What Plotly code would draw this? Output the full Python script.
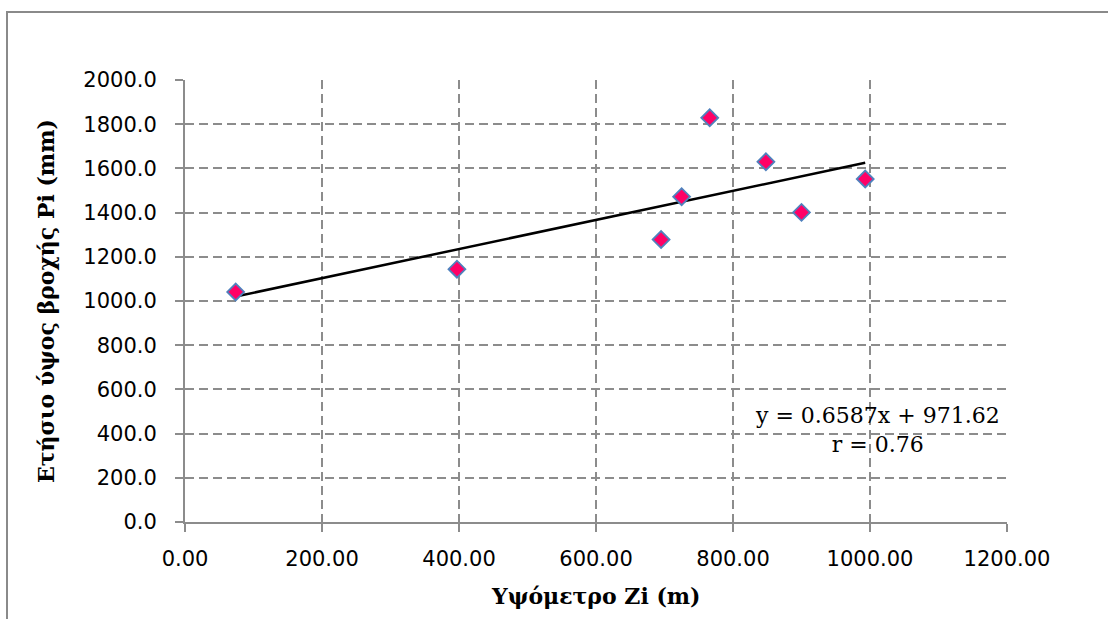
import plotly.graph_objects as go

# Data
altitude_m = [74, 397, 695, 725, 766, 848, 900, 993]
rainfall_mm = [1041, 1144, 1278, 1472, 1829, 1630, 1401, 1552]

# Trendline coefficients as printed on the chart
slope = 0.6587
intercept = 971.62
r_value = 0.76

x_ticks = [0, 200, 400, 600, 800, 1000, 1200]
y_ticks = [0, 200, 400, 600, 800, 1000, 1200, 1400, 1600, 1800, 2000]

x_title = "Υψόμετρο Zi (m)"
y_title = "Ετήσιο ύψος βροχής Pi (mm)"

# Plot area geometry (pixels)
L, R, T, B = 185, 101, 80, 97
W, H = 1108, 619
pw = W - L - R
ph = H - T - B

trend_x = [min(altitude_m), max(altitude_m)]
trend_y = [slope * v + intercept for v in trend_x]

fig = go.Figure()
fig.add_trace(go.Scatter(
    x=trend_x, y=trend_y, mode="lines",
    line=dict(color="black", width=2.5),
    hoverinfo="skip", showlegend=False,
))
fig.add_trace(go.Scatter(
    x=altitude_m, y=rainfall_mm, mode="markers",
    marker=dict(symbol="diamond", size=13, color="#FF0066",
                line=dict(color="#4F81BD", width=1.8)),
    showlegend=False,
))

grid_col = "#8c8c8c"
axis_font = dict(family="DejaVu Sans", size=21, color="black")

fig.update_xaxes(
    range=[0, 1200], tickvals=x_ticks, tickformat=".2f",
    showgrid=True, gridcolor=grid_col, gridwidth=1.5, griddash="9px,5px",
    showline=True, linecolor=grid_col, linewidth=2,
    ticks="outside", ticklen=8, tickcolor=grid_col, tickwidth=2,
    zeroline=False, tickfont=axis_font, ticklabelstandoff=9,
)
fig.update_yaxes(
    range=[0, 2000], tickvals=y_ticks, tickformat=".1f",
    showgrid=True, gridcolor=grid_col, gridwidth=1.5, griddash="9px,5px",
    showline=True, linecolor=grid_col, linewidth=2,
    ticks="outside", ticklen=8, tickcolor=grid_col, tickwidth=2,
    zeroline=False, tickfont=axis_font, ticklabelstandoff=14,
)

title_font = dict(family="DejaVu Serif", size=22, color="black")

fig.update_layout(
    width=W, height=H,
    margin=dict(l=L, r=R, t=T, b=B, autoexpand=False),
    paper_bgcolor="white", plot_bgcolor="white",
    shapes=[dict(
        type="rect", xref="paper", yref="paper",
        x0=(7 - L) / pw, x1=1.3, y0=-0.5, y1=(T + ph - 12) / ph,
        line=dict(color="#8a8a8a", width=2), fillcolor="rgba(0,0,0,0)",
        layer="below",
    )],
    annotations=[
        dict(text="<b>" + x_title + "</b>", xref="paper", yref="paper",
             x=0.5, y=0, xanchor="center", yanchor="middle",
             yshift=-74, showarrow=False, font=title_font),
        dict(text="<b>" + y_title + "</b>", xref="paper", yref="paper",
             x=0, y=0.5, xanchor="center", yanchor="middle", textangle=-90,
             xshift=46 - L, showarrow=False, font=title_font),
        dict(text=f"y = {slope}x + {intercept}<br>r = {r_value}",
             xref="paper", yref="paper",
             x=(877 - L) / pw, y=(T + ph - 430) / ph,
             xanchor="center", yanchor="middle", align="center",
             showarrow=False,
             font=dict(family="DejaVu Serif", size=22, color="black")),
    ],
)

fig.write_html("out.html")
